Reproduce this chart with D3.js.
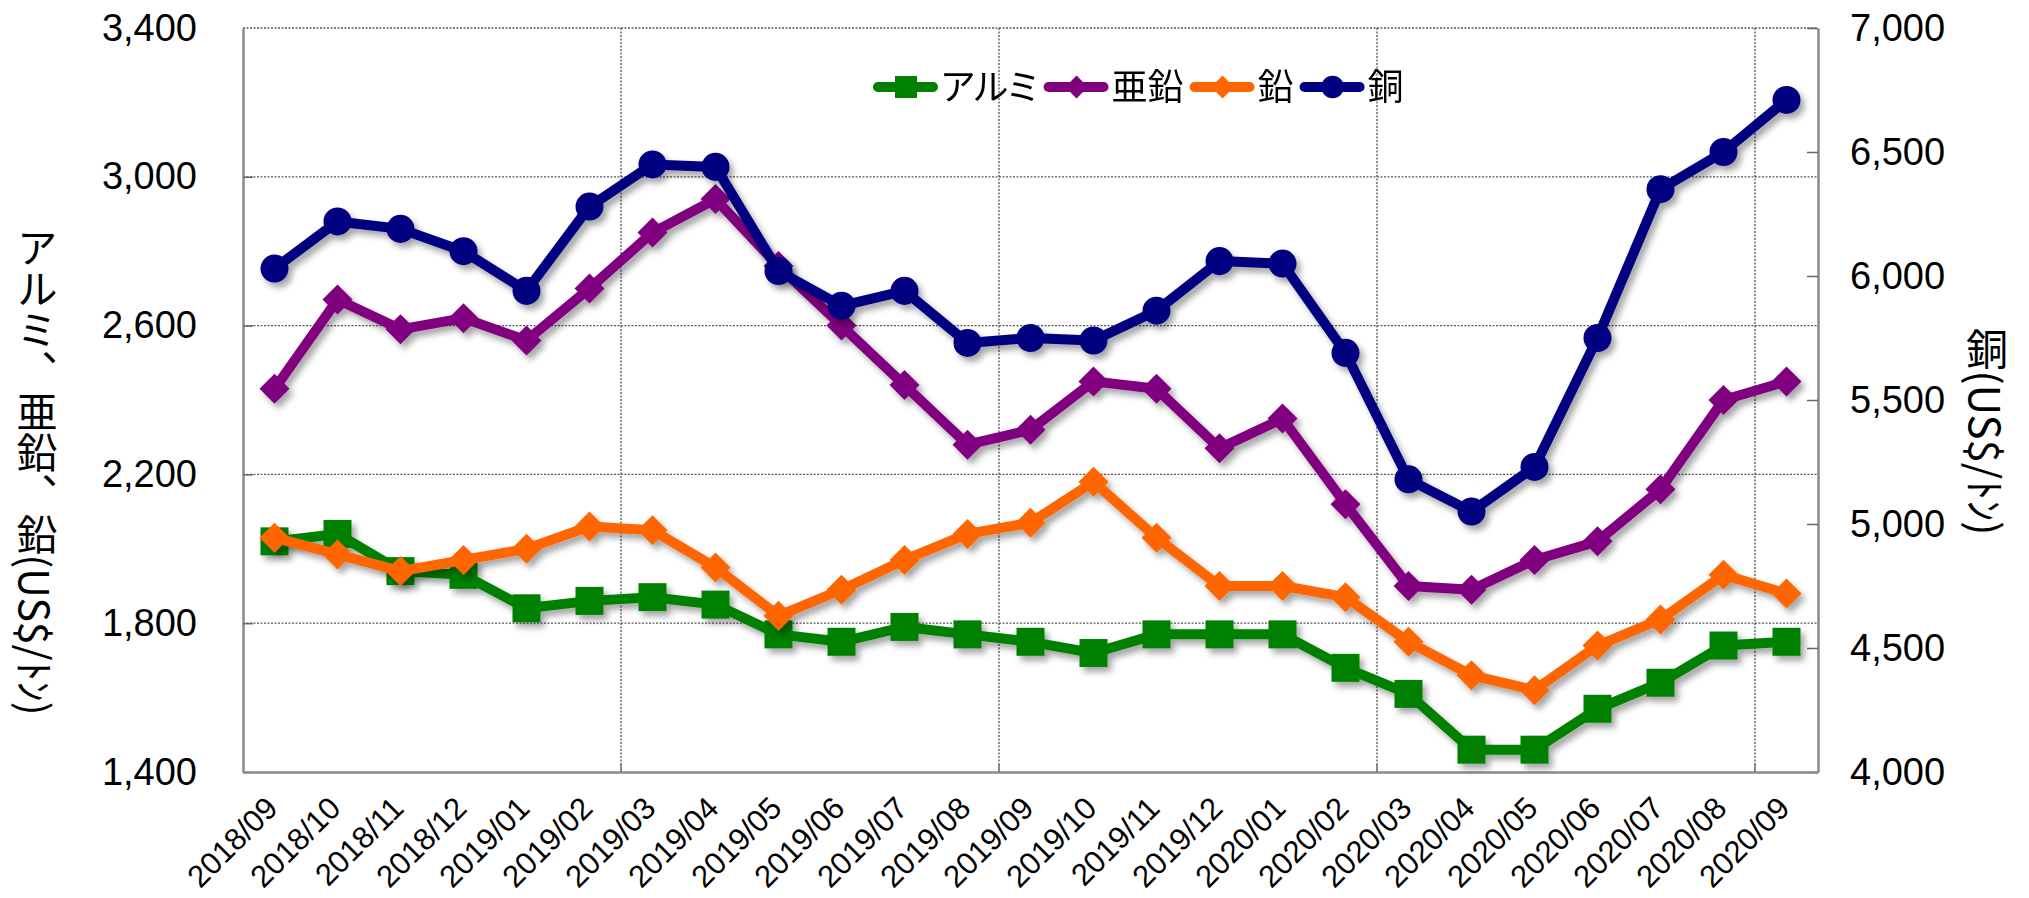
<!DOCTYPE html>
<html>
<head>
<meta charset="utf-8">
<script src="https://cdn.jsdelivr.net/npm/d3@7"></script>
<style>
  body { margin: 0; background: #fff; }
  text { font-family: "Liberation Sans", Arial, sans-serif; fill: #000; }
  .jp { font-family: "Noto Sans CJK JP", sans-serif; }
</style>
</head>
<body>
<div id="chart"></div>
<script>
// data
var months = ["2018/09", "2018/10", "2018/11", "2018/12",
  "2019/01", "2019/02", "2019/03", "2019/04", "2019/05", "2019/06",
  "2019/07", "2019/08", "2019/09", "2019/10", "2019/11", "2019/12",
  "2020/01", "2020/02", "2020/03", "2020/04", "2020/05", "2020/06",
  "2020/07", "2020/08", "2020/09"];

var aluminum = [2020, 2040, 1940, 1930, 1840, 1860, 1870, 1850, 1770, 1750,
  1790, 1770, 1750, 1720, 1770, 1770, 1770, 1680, 1610, 1460, 1460, 1570,
  1640, 1740, 1750];
var zinc = [2430, 2670, 2590, 2620, 2560, 2700, 2850, 2940, 2760, 2600,
  2440, 2280, 2320, 2450, 2430, 2270, 2350, 2120, 1900, 1890, 1970, 2020,
  2160, 2400, 2450];
var lead = [2030, 1985, 1940, 1970, 2000, 2060, 2050, 1950, 1820, 1890,
  1970, 2040, 2070, 2180, 2030, 1900, 1900, 1870, 1750, 1660, 1620, 1740,
  1810, 1930, 1880];
var copper = [6030, 6220, 6190, 6100, 5940, 6280, 6450, 6440, 6020, 5880,
  5940, 5730, 5750, 5740, 5860, 6060, 6050, 5690, 5180, 5050, 5230, 5750,
  6350, 6500, 6710];

var seriesNames = ["アルミ", "亜鉛", "鉛", "銅"];
var leftTicks = [1400, 1800, 2200, 2600, 3000, 3400];
var rightTicks = [4000, 4500, 5000, 5500, 6000, 6500, 7000];
var leftTitle = "アルミ、亜鉛、鉛(US$/ﾄﾝ)";
var rightTitle = "銅(US$/ﾄﾝ)";

// chart set up
var svgWidth = 2029;
var svgHeight = 898;
var plot = { left: 243, right: 1818, top: 28, bottom: 772 };

var svg = d3.select("#chart")
  .append("svg")
  .attr("width", svgWidth)
  .attr("height", svgHeight);

var defs = svg.append("defs");
defs.append("filter")
  .attr("id", "shadow")
  .attr("x", "-10%").attr("y", "-10%")
  .attr("width", "120%").attr("height", "130%")
  .append("feDropShadow")
  .attr("dx", 4).attr("dy", 5)
  .attr("stdDeviation", 3)
  .attr("flood-color", "#000")
  .attr("flood-opacity", 0.35);

// scales
var xScale = d3.scaleBand()
  .domain(months)
  .range([plot.left, plot.right])
  .padding(0);
var xc = d => xScale(d) + xScale.bandwidth() / 2;

var yLeft = d3.scaleLinear()
  .domain([1400, 3400])
  .range([plot.bottom, plot.top]);
var yRight = d3.scaleLinear()
  .domain([4000, 7000])
  .range([plot.bottom, plot.top]);

// gridlines
var grid = svg.append("g")
  .attr("stroke", "#555")
  .attr("stroke-width", 1.3)
  .attr("stroke-dasharray", "2,1.5");

grid.selectAll(".hgrid")
  .data(leftTicks.slice(1))
  .enter()
  .append("line")
  .attr("x1", plot.left)
  .attr("x2", plot.right)
  .attr("y1", d => yLeft(d))
  .attr("y2", d => yLeft(d));

var gridMonths = months.filter((m, i) => i > 0 && i % 6 === 0);
grid.selectAll(".vgrid")
  .data(gridMonths)
  .enter()
  .append("line")
  .attr("x1", d => xScale(d))
  .attr("x2", d => xScale(d))
  .attr("y1", plot.top)
  .attr("y2", plot.bottom);

// bottom tick marks at gridlines
svg.append("g")
  .selectAll("line")
  .data(gridMonths)
  .enter()
  .append("line")
  .attr("x1", d => xScale(d))
  .attr("x2", d => xScale(d))
  .attr("y1", plot.bottom - 8)
  .attr("y2", plot.bottom)
  .attr("stroke", "#888")
  .attr("stroke-width", 2);

// axes
var fmt = d3.format(",");

var leftAxis = svg.append("g")
  .attr("transform", `translate(${plot.left}, 0)`)
  .call(d3.axisLeft(yLeft).tickValues(leftTicks).tickSize(-10)
    .tickSizeOuter(0).tickPadding(46).tickFormat(fmt));

var rightAxis = svg.append("g")
  .attr("transform", `translate(${plot.right}, 0)`)
  .call(d3.axisRight(yRight).tickValues(rightTicks).tickSize(-11)
    .tickSizeOuter(0).tickPadding(32).tickFormat(fmt));

[leftAxis, rightAxis].forEach(function(ax) {
  ax.select(".domain").attr("stroke", "#8a8a8a").attr("stroke-width", 2.5);
  ax.selectAll(".tick line").attr("stroke", "#666").attr("stroke-width", 1.5);
  ax.selectAll(".tick text")
    .attr("font-size", 38)
    .style("font-family", "'Liberation Sans', Arial, sans-serif");
});
leftAxis.select(".tick:last-of-type line").remove();

var bottomAxis = svg.append("g")
  .attr("transform", `translate(0, ${plot.bottom})`)
  .call(d3.axisBottom(xScale).tickSize(0).tickSizeOuter(0));
bottomAxis.select(".domain").attr("stroke", "#8a8a8a").attr("stroke-width", 2.5);
bottomAxis.selectAll(".tick text")
  .attr("x", 0)
  .attr("y", 0)
  .attr("dy", 0)
  .attr("transform", "translate(5, 38) rotate(-45)")
  .attr("text-anchor", "end")
  .attr("font-size", 31)
  .style("font-family", "'Liberation Sans', Arial, sans-serif");

// axis titles (vertical writing)
svg.append("text")
  .attr("class", "jp")
  .attr("x", 37)
  .attr("y", 471)
  .attr("text-anchor", "middle")
  .style("writing-mode", "vertical-rl")
  .attr("font-size", 41)
  .text(leftTitle);

svg.append("text")
  .attr("class", "jp")
  .attr("x", 1987)
  .attr("y", 432)
  .attr("text-anchor", "middle")
  .style("writing-mode", "vertical-rl")
  .attr("font-size", 42)
  .text(rightTitle);

// series
var series = [
  { name: seriesNames[0], values: aluminum, y: yLeft, color: "#008000", shape: "square" },
  { name: seriesNames[1], values: zinc, y: yLeft, color: "#800080", shape: "diamond" },
  { name: seriesNames[2], values: lead, y: yLeft, color: "#FF6600", shape: "diamond" },
  { name: seriesNames[3], values: copper, y: yRight, color: "#000080", shape: "circle" }
];

function symbolPath(shape, big) {
  if (shape === "square") {
    return d3.symbol(d3.symbolSquare, big ? 784 : 484)();
  }
  if (shape === "diamond") {
    return d3.symbol(d3.symbolSquare, big ? 450 : 260)();
  }
  return d3.symbol(d3.symbolCircle, big ? 616 : 400)();
}

series.forEach(function(s) {
  var g = svg.append("g").attr("filter", "url(#shadow)");

  var line = d3.line()
    .x((v, i) => xc(months[i]))
    .y(v => s.y(v));

  g.append("path")
    .datum(s.values)
    .attr("d", line)
    .attr("fill", "none")
    .attr("stroke", s.color)
    .attr("stroke-width", 10)
    .attr("stroke-linejoin", "round");

  g.selectAll(".marker")
    .data(s.values)
    .enter()
    .append("path")
    .attr("d", symbolPath(s.shape, true))
    .attr("transform", function(v, i) {
      var t = `translate(${xc(months[i])}, ${s.y(v)})`;
      return s.shape === "diamond" ? t + " rotate(45)" : t;
    })
    .attr("fill", s.color);
});

// legend
var legend = svg.append("g")
  .attr("transform", "translate(873, 87)");
var lx = 0;
series.forEach(function(s) {
  var item = legend.append("g").attr("transform", `translate(${lx}, 0)`);
  item.append("line")
    .attr("x1", 5).attr("x2", 60)
    .attr("y1", 0).attr("y2", 0)
    .attr("stroke", s.color)
    .attr("stroke-width", 10)
    .attr("stroke-linecap", "round");
  item.append("path")
    .attr("d", symbolPath(s.shape, false))
    .attr("transform", s.shape === "diamond" ? "translate(33,0) rotate(45)" : "translate(33,0)")
    .attr("fill", s.color);
  var t = item.append("text")
    .attr("class", "jp")
    .attr("x", 68)
    .attr("y", 0)
    .attr("dy", "0.36em")
    .attr("font-size", 36)
    .style("font-feature-settings", "'palt'")
    .text(s.name);
  lx += 68 + t.node().getComputedTextLength() + 6;
});
</script>
</body>
</html>
